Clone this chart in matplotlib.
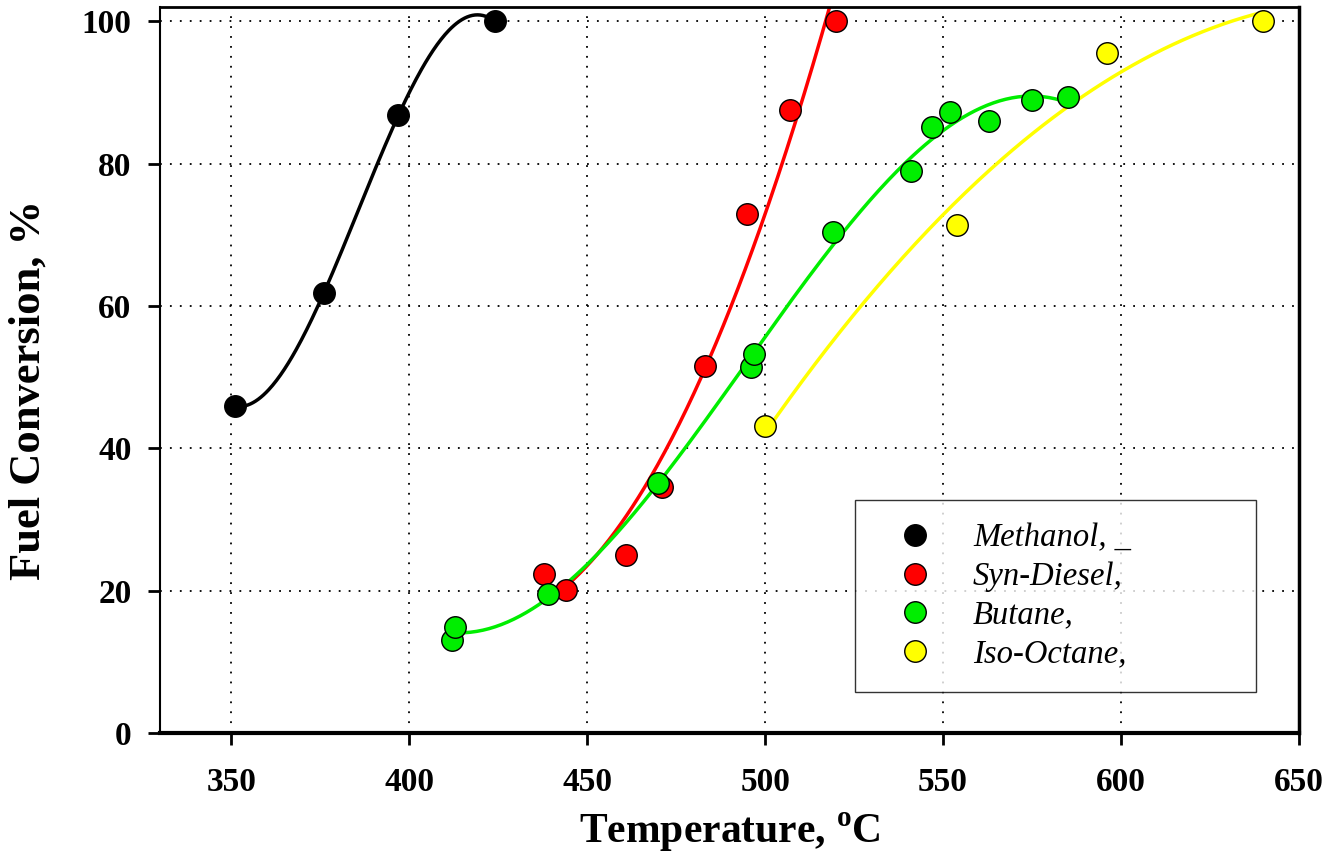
import numpy as np
import matplotlib.pyplot as plt

# data
meth_T = [351, 376, 397, 424]
meth_X = [45.9, 61.8, 86.8, 100.0]

diesel_T = [438, 444, 461, 471, 483, 495, 507, 520]
diesel_X = [22.3, 20.1, 25.0, 34.5, 51.6, 72.9, 87.5, 100.0]

butane_T = [412, 413, 439, 470, 496, 497, 519, 541, 547, 552, 563, 575, 585]
butane_X = [13.1, 14.9, 19.5, 35.1, 51.4, 53.2, 70.4, 78.9, 85.1, 87.2, 86.0, 89.0, 89.3]

octane_T = [500, 554, 596, 640]
octane_X = [43.1, 71.3, 95.5, 100.0]

series = [
    ('Methanol, _', meth_T, meth_X, 'black', 3),
    ('Syn-Diesel,', diesel_T, diesel_X, '#ff0000', 2),
    ('Butane,', butane_T, butane_X, '#00ee00', 3),
    ('Iso-Octane,', octane_T, octane_X, '#ffff00', 2),
]

plt.rcParams['font.family'] = 'Liberation Serif'
plt.rcParams['mathtext.fontset'] = 'custom'
plt.rcParams['mathtext.rm'] = 'Liberation Serif:bold'

fig = plt.figure(figsize=(13.29, 8.61), dpi=100)
ax = fig.add_axes([0.1204, 0.1487, 0.8570, 0.8432])

for name, T, X, col, deg in series:
    # smooth fitted trend line like the original
    c = np.polyfit(T, X, deg)
    tt = np.linspace(min(T), max(T), 200)
    ax.plot(tt, np.polyval(c, tt), color=col, lw=2.5, zorder=2)

for name, T, X, col, deg in series:
    ax.plot(T, X, 'o', ms=15.5, mfc=col, mec='black', mew=1, ls='none',
            label=name, zorder=3)

ax.set_xlim(330, 650)
ax.set_ylim(0, 102)
ax.set_xticks(range(350, 651, 50))
ax.set_yticks(range(0, 101, 20))

for v in range(350, 601, 50):
    ax.axvline(v, color='black', ls=(0, (1, 4.5)), lw=1.3, zorder=1)
for v in range(20, 101, 20):
    ax.axhline(v, color='black', ls=(0, (1, 4.5)), lw=1.3, zorder=1)

ax.tick_params(direction='out', length=8.5, width=2, labelsize=24)
ax.tick_params(axis='x', pad=16)
ax.tick_params(axis='y', pad=12)
for lab in ax.get_xticklabels() + ax.get_yticklabels():
    lab.set_fontweight('bold')

ax.spines['left'].set_linewidth(1.5)
ax.spines['top'].set_linewidth(2)
ax.spines['right'].set_linewidth(2.5)
ax.spines['bottom'].set_linewidth(3)

ax.set_xlabel('Temperature, $^{\\mathrm{o}}$C', fontsize=30, fontweight='bold')
ax.set_ylabel('Fuel Conversion, %', fontsize=32, fontweight='bold')
ax.xaxis.set_label_coords(0.5, -0.107)
ax.yaxis.set_label_coords(-0.098, 0.472)

leg = ax.legend(loc='upper left', bbox_to_anchor=(0.610, 0.321, 0.352, 0), mode='expand',
                prop={'style': 'italic', 'size': 23.5}, frameon=True, fancybox=False,
                edgecolor='black', borderpad=0.7, handletextpad=0.64,
                labelspacing=0.25, borderaxespad=0, handlelength=2.28)
leg.get_frame().set_linewidth(1)

fig.savefig('out.png', dpi=100)
